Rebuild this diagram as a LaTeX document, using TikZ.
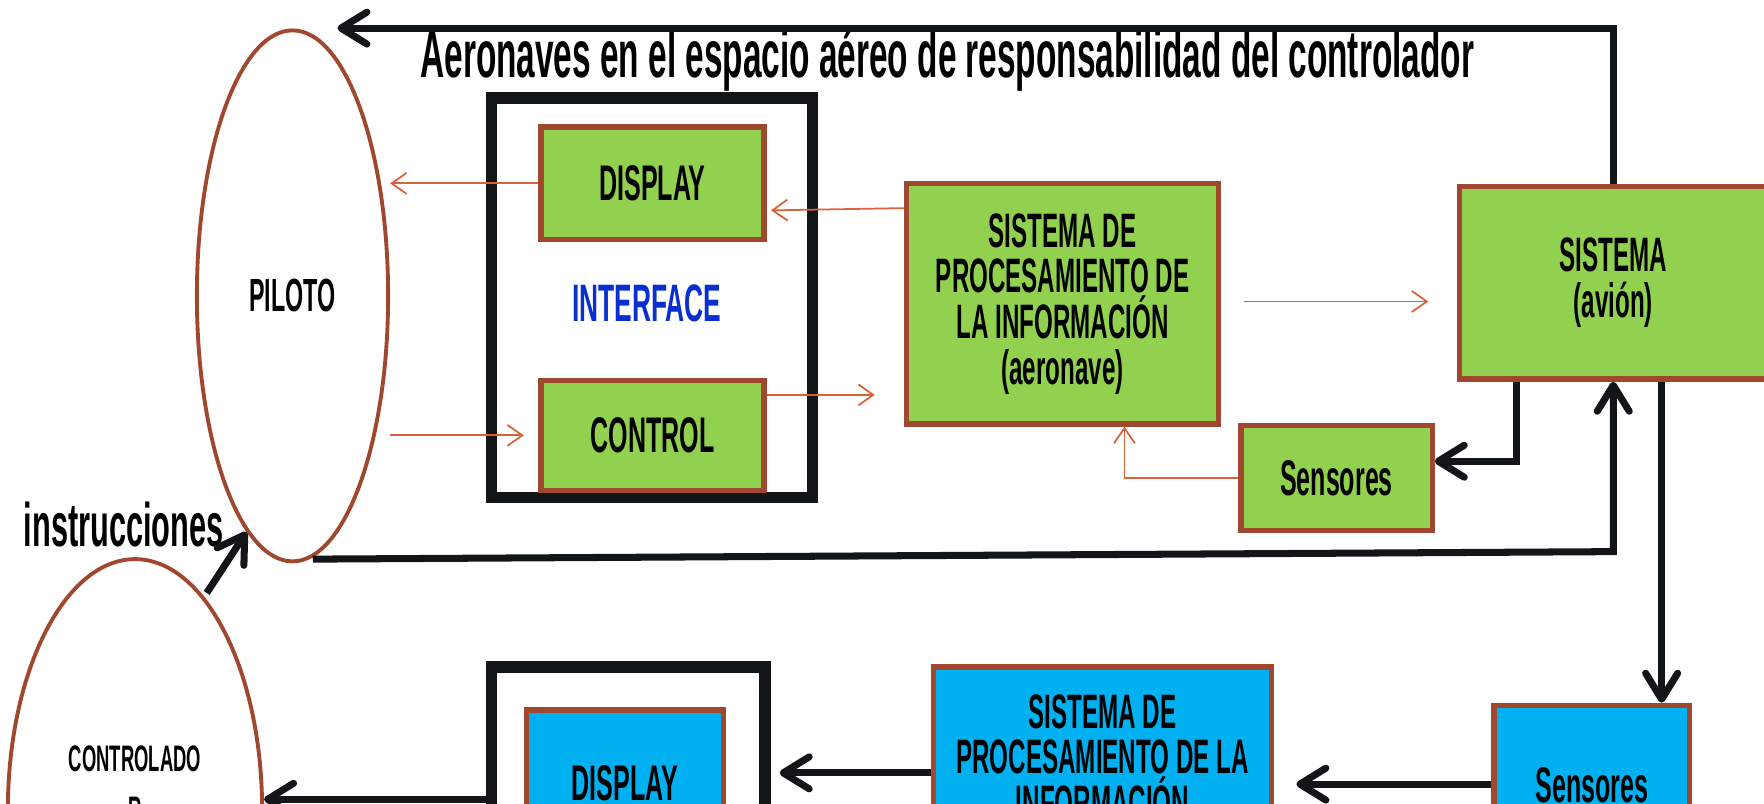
\documentclass[tikz,border=0pt]{standalone}
\usepackage{fontspec}
\newfontfamily\agency{Liberation Sans}[FakeStretch=0.5]
\usetikzlibrary{arrows.meta,shapes.geometric,calc}
\definecolor{verde}{HTML}{92D050}
\definecolor{azul}{HTML}{00B0F0}
\definecolor{borde}{HTML}{A0482F}
\definecolor{naranja}{HTML}{D9623B}
\definecolor{negro}{HTML}{121618}
\definecolor{azultxt}{HTML}{0A2FD0}
\newcommand\px{0.0225cm}
\begin{document}
\begin{tikzpicture}[x=\px,y=-\px,
  letra/.style={font={\agency\bfseries\fontsize{#1}{26}\selectfont},align=center},
  letra/.default=27.5,
  verdebox/.style={draw=borde,fill=verde,line width=3pt,inner sep=0pt,letra},
  azulbox/.style={verdebox,fill=azul},
  marco/.style={draw=negro,line width=6.5pt,inner sep=0pt},
  ovalo/.style={ellipse,draw=borde,line width=2.2pt,inner sep=0pt},
  flecha/.style={draw=negro,line width=4pt,-{Straight Barb[length=0.52cm,width=0.64cm,round]}},
  fina/.style={draw=naranja,line width=1pt,-{Straight Barb[length=0.3cm,width=0.42cm]}}]
\useasboundingbox (0,0) rectangle (1568,714);
\fill[white] (0,0) rectangle (1568,714);
\clip (0,0) rectangle (1568,714);

\node[letra=38] (titulo) at (842,53) {Aeronaves en el espacio aéreo de responsabilidad del controlador};
\node[ovalo,minimum width=170*\px,minimum height=472*\px,letra=26.5] (pil) at (260,263) {PILOTO};
\node[marco,minimum width=285*\px,minimum height=355*\px] (intf) at (579.5,264.5) {};
\node[verdebox,minimum width=198*\px,minimum height=100*\px,letra=28.5] (disp) at (580,163) {DISPLAY};
\node[verdebox,minimum width=198*\px,minimum height=98*\px,letra=28.5] (ctrl) at (580,387) {CONTROL};
\node[letra=30,text=azultxt] (intftxt) at (575,270) {INTERFACE};
\node[verdebox,minimum width=277*\px,minimum height=214*\px] (spi) at (944.5,270) {SISTEMA DE\\PROCESAMIENTO DE\\LA INFORMACIÓN\\(aeronave)};
\node[verdebox,minimum width=274*\px,minimum height=171*\px] (sis) at (1434,251.5) {SISTEMA\\(avión)};
\node[verdebox,minimum width=170*\px,minimum height=93*\px,letra=28.5] (sen1) at (1188,425) {Sensores};

\node[letra=35] (instr) at (110,466) {instrucciones};
\node[ovalo,minimum width=226*\px,minimum height=446*\px] (ctr) at (120,720) {};
\node[font={\agency\bfseries\fontsize{21}{29}\selectfont},align=center] (ctrtxt) at (120,697) {CONTROLADO\\R};
\node[marco,minimum width=243*\px,minimum height=247*\px] (intf2) at (558.5,716.5) {};
\node[azulbox,minimum width=175*\px,minimum height=130*\px,letra=28.5] (disp2) at (555.5,696) {DISPLAY};
\node[azulbox,minimum width=300*\px,minimum height=160*\px] (spi2) at (980,673) {SISTEMA DE\\PROCESAMIENTO DE LA\\INFORMACIÓN};
\node[azulbox,minimum width=174*\px,minimum height=142*\px,letra=28.5] (sen2) at (1415,698) {Sensores};

\draw[fina] (disp.west) -- (disp.west -| pil.east);
\draw[fina,shorten >=13*\px] (pil.east |- ctrl.west) -- (ctrl.west);
\draw[fina] ($(spi.west)+(0,-85)$) -- ($(disp.east)+(4,24)$);
\draw[fina,shorten >=26*\px] ($(ctrl.east)+(0,-36)$) -- ($(ctrl.east -| spi.west)+(0,-36)$);
\draw[fina] ($(spi.east)+(20,-2)$) -- ($(spi.east -| sis.west)+(-25,-2)$);
\draw[fina] (sen1.west) -| ($(spi.south)+(55,0)$);

\coordinate (tope) at (300,25);
\coordinate (pie) at (278,497);
\coordinate (bajada) at ($(sis.south)+(43,0)$);
\draw[flecha] (sis.north) |- (tope);
\draw[flecha] (pie) -- ($(sis.south)+(0,151)$) -- (sis.south);
\draw[flecha] ($(sis.south)+(-86,0)$) |- ($(sen1.east)+(0,-15)$);
\draw[flecha] (bajada) -- (bajada |- sen2.north);
\draw[flecha,shorten <=4*\px] (ctr.72) -- (pil.259);
\draw[flecha] ($(intf2.west)+(0,-6)$) -- ($(intf2.west -| ctr.east)+(0,-6)$);
\draw[flecha] ($(spi2.west)+(0,14)$) -- ($(spi2.west -| intf2.east)+(8,14)$);
\draw[flecha] ($(sen2.west)+(0,-1)$) -- ($(sen2.west -| spi2.east)+(20,-1)$);
\end{tikzpicture}
\end{document}
